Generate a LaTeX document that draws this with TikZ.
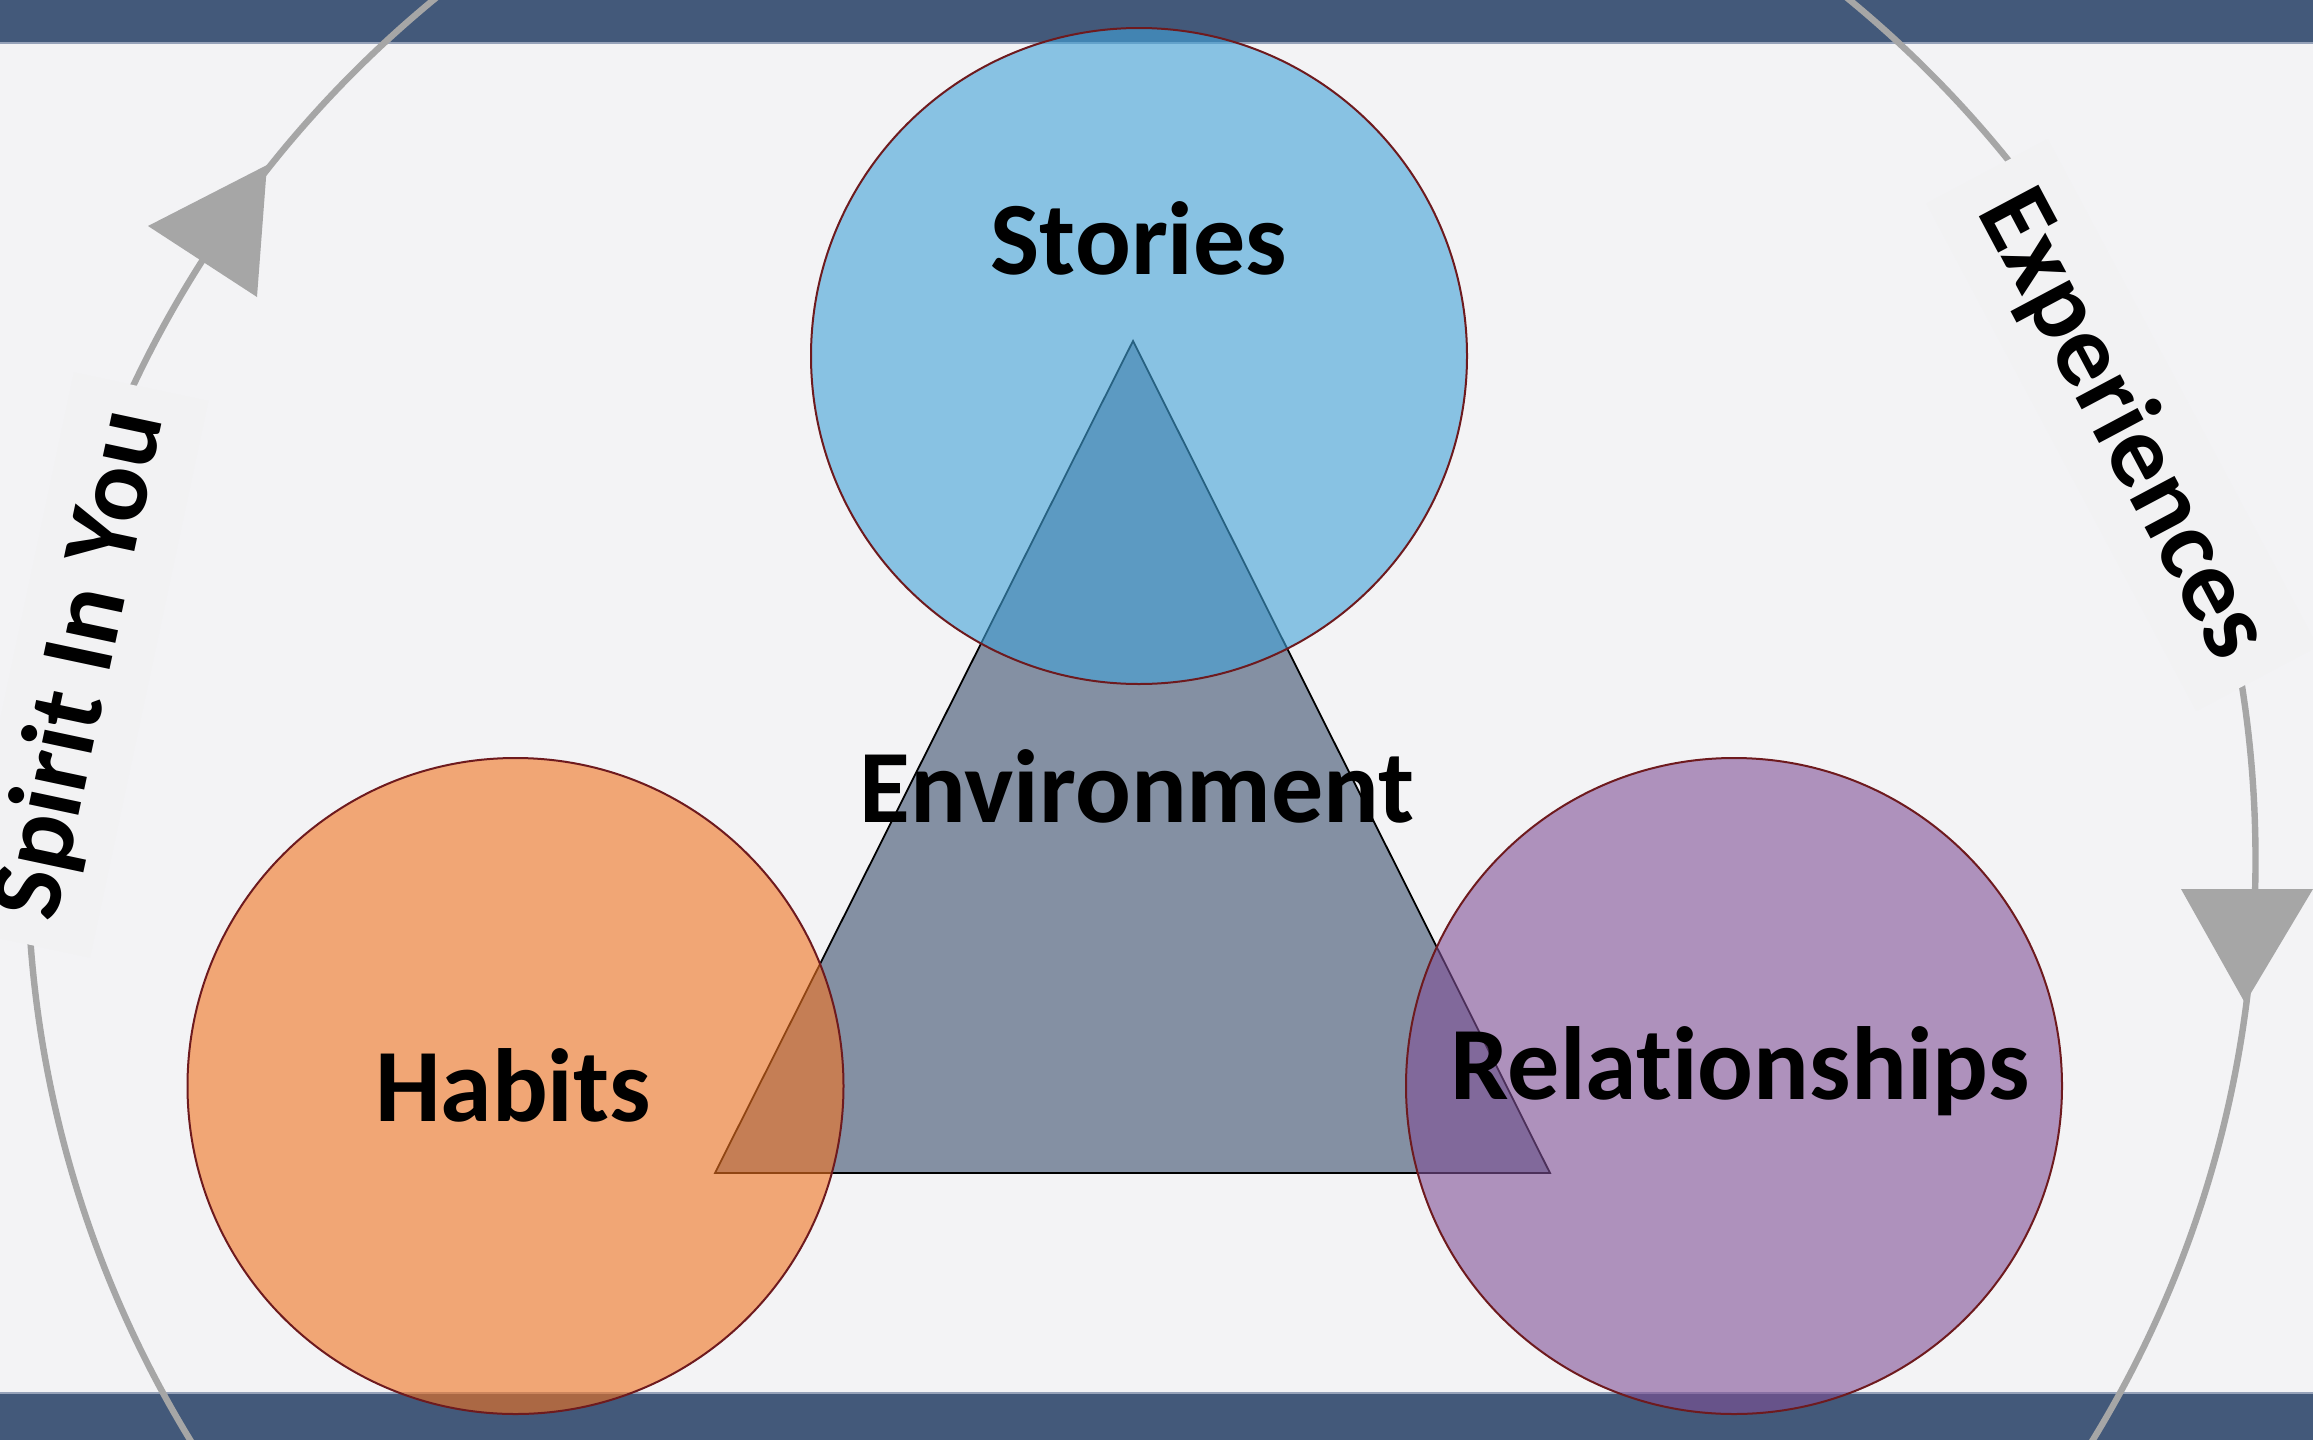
\documentclass[tikz,border=0pt]{standalone}
\usepackage{fontspec}
\setmainfont{Carlito}[Ligatures=NoCommon]
\definecolor{bgcol}{RGB}{243,243,245}
\definecolor{barcol}{RGB}{67,89,122}
\definecolor{barline}{RGB}{150,162,185}
\definecolor{arcgray}{RGB}{166,166,166}
\definecolor{boxcol}{RGB}{242,242,243}
\definecolor{tricol}{RGB}{132,144,163}
\definecolor{bluecol}{RGB}{66,162,216}
\definecolor{orangecol}{RGB}{241,115,33}
\definecolor{purplecol}{RGB}{128,80,150}
\definecolor{rimcol}{RGB}{110,26,30}
\tikzset{
  lbl/.style={font=\fontsize{52}{60}\selectfont\bfseries, text=black},
  sidelbl/.style={lbl, fill=boxcol, inner ysep=12pt},
  blob/.style={draw=rimcol, line width=1pt, fill opacity=0.6},
  loopline/.style={draw=arcgray, line width=3.2pt},
  tiphead/.style={fill=arcgray}
}
\begin{document}
\begin{tikzpicture}[x=0.5pt,y=-0.5pt]
\useasboundingbox (0,0) rectangle (2313,1440);
\begin{scope}
\clip (0,0) rectangle (2313,1440);
% background and bars
\fill[bgcol] (0,0) rectangle (2313,1440);
\fill[barcol] (0,0) rectangle (2313,43);
\fill[barcol] (0,1393) rectangle (2313,1440);
\draw[barline, line width=1pt] (0,43) -- (2313,43);
\draw[barline, line width=1pt] (0,1393) -- (2313,1393);
% big loop
\coordinate (loopc) at (1141.5,860);
\draw[loopline] (loopc) circle [radius=1114];
% arrowheads
\fill[tiphead] (148,226) -- (267,165) -- (257,297) -- cycle;
\fill[tiphead] (2181,889) -- (2313,889) -- (2245,1003) -- cycle;
% side labels
\node[sidelbl, inner xsep=13pt, rotate=78] (spirit) at (82,665) {Spirit In You};
\node[sidelbl, inner xsep=15pt, rotate=-62] (exper) at (2122,425) {Experiences};
% triangle
\draw[fill=tricol, draw=black, line width=0.9pt] (1133,341) -- (1550,1173) -- (715,1173) -- cycle;
% circles
\path[blob, fill=bluecol] (1139,356) circle [radius=328];
\path[blob, fill=orangecol] (515.5,1086) circle [radius=328];
\path[blob, fill=purplecol] (1734,1086) circle [radius=328];
% texts
\node[lbl, anchor=base] (stories) at (1139,274) {Stories};
\node[lbl, anchor=base] (env) at (1137,822) {Environment};
\node[lbl, anchor=base] (habits) at (513,1121) {Habits};
\node[lbl, anchor=base] (rel) at (1740,1099) {Relationships};
\end{scope}
\end{tikzpicture}
\end{document}
